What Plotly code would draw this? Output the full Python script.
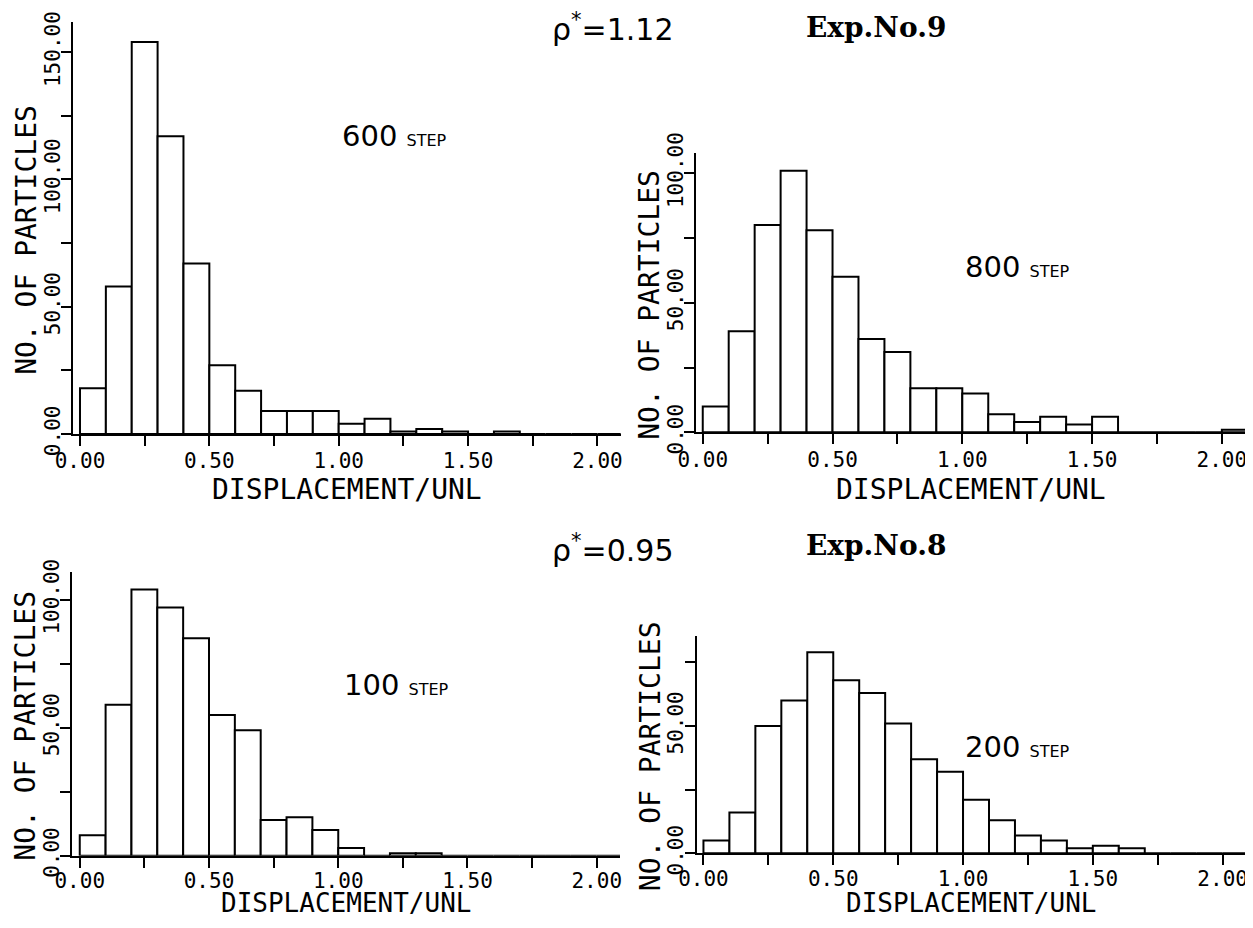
import plotly.graph_objects as go

# ---- data ----
bin_left = [0.00, 0.10, 0.20, 0.30, 0.40, 0.50, 0.60, 0.70, 0.80, 0.90, 1.00,
            1.10, 1.20, 1.30, 1.40, 1.50, 1.60, 1.70, 1.80, 1.90, 2.00]
counts_600 = [18, 58, 154, 117, 67, 27, 17, 9, 9, 9, 4, 6, 1, 2, 1, 0, 1, 0, 0, 0, 0]
counts_800 = [10, 39, 80, 101, 78, 60, 36, 31, 17, 17, 15, 7, 4, 6, 3, 6, 0, 0, 0, 0, 1]
counts_100 = [8, 59, 104, 97, 85, 55, 49, 14, 15, 10, 3, 0, 1, 1, 0, 0, 0, 0, 0, 0, 0]
counts_200 = [5, 16, 50, 60, 79, 68, 63, 51, 37, 32, 21, 13, 7, 5, 2, 3, 2, 0, 0, 0, 0]
step_labels = ["600", "800", "100", "200"]
x_tick_vals = [0, 0.25, 0.5, 0.75, 1.0, 1.25, 1.5, 1.75, 2.0]
x_tick_text = ["0.00", "", "0.50", "", "1.00", "", "1.50", "", "2.00"]
y_tick_vals = [0, 25, 50, 75, 100, 125, 150]
y_tick_text = ["0.00", "", "50.00", "", "100.00", "", "150.00"]

# page body has an 8px margin: map reference pixels into figure paper coords
OFF = 8
W, H = 1240, 912
def fx(p): return (p - OFF) / W
def fy(p): return 1 - (p - OFF) / H

# panel geometry in reference pixels:
# (x_left, x_right, y_top, y_bottom, xrange, yrange, x-title y, x-title size, x label standoff)
panels = [
    (73, 620.7, 21.7, 434.0, [-0.027, 2.09], [0, 162], 489, 28, -3),
    (696, 1246, 153.3, 432.3, [-0.026, 2.093], [0, 107.7], 489, 28, -3),
    (72, 620, 571.7, 855.7, [-0.03, 2.09], [0, 111], 903, 26, -5),
    (696.7, 1246, 635.7, 853.3, [-0.026, 2.09], [0, 85.5], 903, 26, -5),
]
series = [counts_600, counts_800, counts_100, counts_200]

mono = "DejaVu Sans Mono"
fig = go.Figure()
layout = dict(width=W, height=H, margin=dict(l=0, r=0, t=0, b=0, autoexpand=False),
              paper_bgcolor="white", plot_bgcolor="white", showlegend=False)
annotations = []
def ann(text, x, y, font, angle=0):
    annotations.append(dict(text=text, xref="paper", yref="paper", x=fx(x), y=fy(y),
                            xanchor="center", yanchor="middle", showarrow=False,
                            textangle=angle, font=font))

for i, (xl, xr, yt, yb, xrng, yrng, xt_y, xt_size, xso) in enumerate(panels):
    n = "" if i == 0 else str(i + 1)
    fig.add_trace(go.Bar(x=bin_left, y=series[i], width=0.1, offset=0,
                         marker=dict(color="white", line=dict(color="black", width=2)),
                         xaxis="x" + n, yaxis="y" + n, hoverinfo="skip"))
    layout["xaxis" + n] = dict(domain=[fx(xl), fx(xr)], range=xrng, anchor="y" + n,
                               automargin=False,
                               showline=True, linecolor="black", linewidth=2,
                               ticks="outside", ticklen=10, tickwidth=2, tickcolor="black",
                               tickvals=x_tick_vals, ticktext=x_tick_text,
                               ticklabelstandoff=xso,
                               showgrid=False, zeroline=False,
                               tickfont=dict(family=mono, size=21, color="black"))
    layout["yaxis" + n] = dict(domain=[fy(yb), fy(yt)], range=yrng, anchor="x" + n,
                               automargin=False,
                               showline=True, linecolor="black", linewidth=2,
                               ticks="outside", ticklen=10, tickwidth=2, tickcolor="black",
                               tickvals=y_tick_vals, ticktext=y_tick_text, tickangle=-90,
                               ticklabelstandoff=-7,
                               showgrid=False, zeroline=False,
                               tickfont=dict(family=mono, size=21, color="black"))
    ann("DISPLACEMENT/UNL", (xl + xr) / 2, xt_y, dict(family=mono, size=xt_size, color="black"))
    ann("NO. OF PARTICLES", xl - 46, (yt + yb) / 2 + 12, dict(family=mono, size=28, color="black"), -90)

step_pos = [(394, 136), (1017, 267), (396, 685), (1017, 747)]
for lab, (sx, sy) in zip(step_labels, step_pos):
    ann(lab + " <span style='font-size:16px'>STEP</span>", sx, sy,
        dict(family="DejaVu Sans", size=29, color="black"))

title_font = dict(family="DejaVu Sans", size=30, color="black")
exp_font = dict(family="DejaVu Serif", size=28, color="black", weight="bold")
ann("ρ<sup>*</sup>=1.12", 612, 28, title_font)
ann("Exp.No.9", 876, 28, exp_font)
ann("ρ<sup>*</sup>=0.95", 612, 548, title_font)
ann("Exp.No.8", 876, 545, exp_font)

layout["annotations"] = annotations
fig.update_layout(**layout)
fig.write_html("out.html")
